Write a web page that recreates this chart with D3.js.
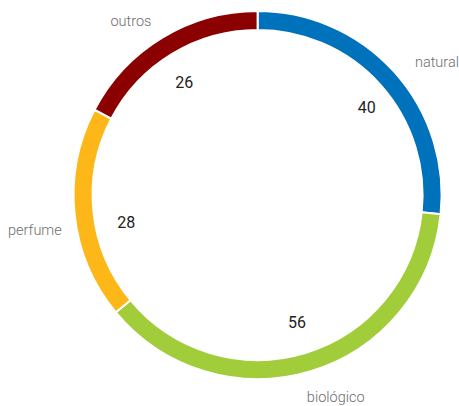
<!DOCTYPE html>
<html><head><meta charset="utf-8">
<script src="https://cdn.jsdelivr.net/npm/d3@7/dist/d3.min.js"></script>
<style>
html,body{margin:0;padding:0;background:#fff;}
svg{display:block;}
</style></head>
<body>
<svg id="chart" width="459" height="406"></svg>
<script>
const categories = ["natural", "biológico", "perfume", "outros"];
const values = [40, 56, 28, 26];
const colors = ["#0071bb", "#a1cd3a", "#fdb719", "#8b0000"];

const W = 459, H = 406;
const cx = 257.6, cy = 195;
const outerR = 184, innerR = 165;
const valueR = 136, labelR = 205;
// small layout nudges (px) for label placement, per slice
const valueNudge = [[8, 3], [0, -3], [4, 13], [-3, 4]];
const labelNudge = [[5, 4], [-10, 6], [8, 13], [0, 1]];

const data = categories.map((c, i) => ({name: c, value: values[i], color: colors[i], i}));

const svg = d3.select("#chart");
const g = svg.append("g").attr("transform", `translate(${cx},${cy})`);

const pie = d3.pie().value(d => d.value).sort(null);
const arcs = pie(data);

const arc = d3.arc().innerRadius(innerR).outerRadius(outerR);
const valueArc = d3.arc().innerRadius(valueR).outerRadius(valueR);
const labelArc = d3.arc().innerRadius(labelR).outerRadius(labelR);

g.selectAll("path.slice").data(arcs).join("path")
  .attr("class", "slice")
  .attr("d", arc)
  .attr("fill", d => d.data.color)
  .attr("stroke", "#fff")
  .attr("stroke-width", 2);

g.selectAll("text.value").data(arcs).join("text")
  .attr("class", "value")
  .attr("transform", d => {
    const [x, y] = valueArc.centroid(d);
    const n = valueNudge[d.data.i];
    return `translate(${x + n[0]},${y + n[1]})`;
  })
  .attr("text-anchor", "middle")
  .attr("dy", "0.35em")
  .attr("font-family", "Roboto, sans-serif")
  .attr("font-size", 16)
  .attr("fill", "#222")
  .text(d => d.data.value);

g.selectAll("text.label").data(arcs).join("text")
  .attr("class", "label")
  .attr("transform", d => {
    const [x, y] = labelArc.centroid(d);
    const n = labelNudge[d.data.i];
    return `translate(${x + n[0]},${y + n[1]})`;
  })
  .attr("text-anchor", d => ((d.startAngle + d.endAngle) / 2 < Math.PI) ? "start" : "end")
  .attr("dy", "0.35em")
  .attr("font-family", "Roboto, sans-serif")
  .attr("font-weight", 300)
  .attr("font-size", 14.5)
  .attr("fill", "#6e6e6e")
  .text(d => d.data.name);
</script>
</body></html>
